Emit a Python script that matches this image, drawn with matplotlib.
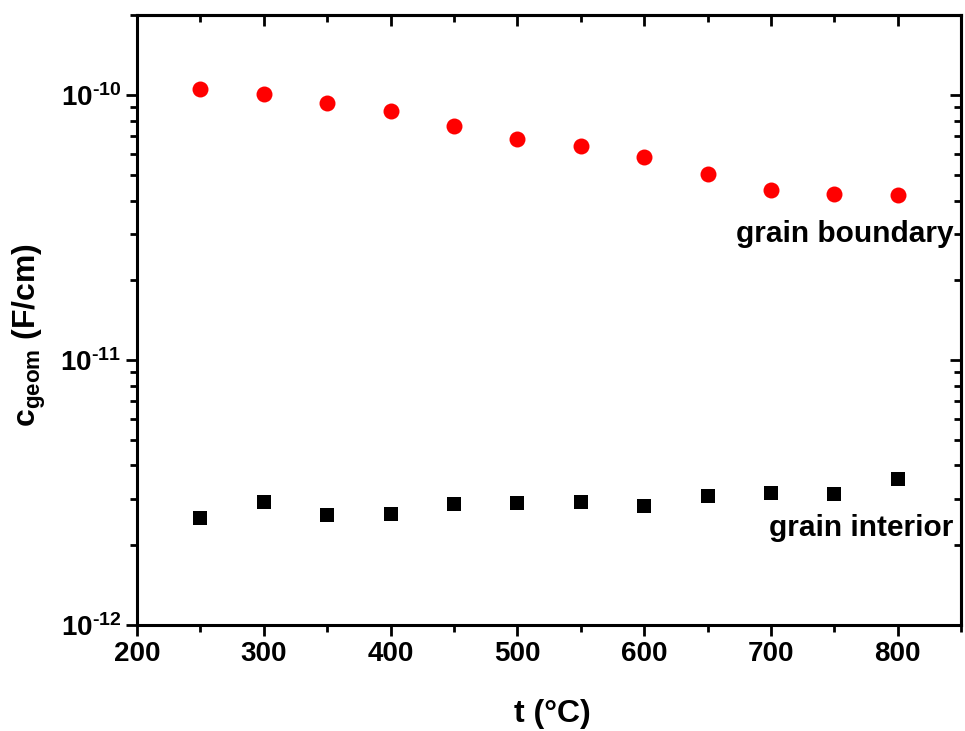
import numpy as np
import matplotlib
matplotlib.use("Agg")
import matplotlib.pyplot as plt
from matplotlib.ticker import MultipleLocator, LogLocator, NullFormatter, FuncFormatter

plt.rcParams['font.family'] = ['Liberation Sans', 'DejaVu Sans']
plt.rcParams['font.weight'] = 'bold'
plt.rcParams['axes.labelweight'] = 'bold'
plt.rcParams['mathtext.fontset'] = 'custom'
plt.rcParams['mathtext.rm'] = 'Liberation Sans:bold'
plt.rcParams['mathtext.bf'] = 'Liberation Sans:bold'
plt.rcParams['mathtext.it'] = 'Liberation Sans:bold'
plt.rcParams['mathtext.default'] = 'bf'

# temperatures (°C)
temps = [250, 300, 350, 400, 450, 500, 550, 600, 650, 700, 750, 800]
# geometric capacitance (F/cm)
c_boundary = [1.05e-10, 1.01e-10, 0.935e-10, 0.87e-10, 0.765e-10, 0.683e-10,
              0.643e-10, 0.585e-10, 0.505e-10, 0.44e-10, 0.424e-10, 0.418e-10]
c_interior = [2.54e-12, 2.92e-12, 2.61e-12, 2.63e-12, 2.85e-12, 2.89e-12,
              2.92e-12, 2.82e-12, 3.08e-12, 3.16e-12, 3.13e-12, 3.56e-12]

fig = plt.figure(figsize=(9.65, 7.31), dpi=100)
ax = fig.add_axes([0.142, 0.145, 0.854, 0.834])

ax.plot(temps, c_boundary, 'o', color='#ff0000', markersize=11.5, markeredgewidth=0)
ax.plot(temps, c_interior, 's', color='black', markersize=10, markeredgewidth=0)

ax.set_yscale('log')
ax.set_xlim(200, 850)
ax.set_ylim(1e-12, 2e-10)


def log_label(v, pos):
    e = int(round(np.log10(v)))
    return r'10$^{\text{%d}}$' % e


ax.xaxis.set_major_locator(MultipleLocator(100))
ax.xaxis.set_minor_locator(MultipleLocator(50))
ax.yaxis.set_major_locator(LogLocator(base=10, numticks=10))
ax.yaxis.set_minor_locator(LogLocator(base=10, subs=np.arange(2, 10), numticks=20))
ax.yaxis.set_major_formatter(FuncFormatter(log_label))
ax.yaxis.set_minor_formatter(NullFormatter())

for s in ax.spines.values():
    s.set_linewidth(2.2)

ax.tick_params(which='both', direction='out', width=2.0, labelsize=20,
               top=False, right=False)
ax.tick_params(which='major', length=8)
ax.tick_params(which='minor', length=5)

# mirrored ticks pointing inwards on top/right
axt = ax.secondary_xaxis('top')
axt.xaxis.set_major_locator(MultipleLocator(100))
axt.xaxis.set_minor_locator(MultipleLocator(50))
axt.tick_params(which='both', direction='in', width=2.0, labeltop=False)
axt.tick_params(which='major', length=8)
axt.tick_params(which='minor', length=5)
axt.spines['top'].set_linewidth(2.2)

axr = ax.secondary_yaxis('right')
axr.yaxis.set_major_locator(LogLocator(base=10, numticks=10))
axr.yaxis.set_minor_locator(LogLocator(base=10, subs=np.arange(2, 10), numticks=20))
axr.yaxis.set_minor_formatter(NullFormatter())
axr.tick_params(which='both', direction='in', width=2.0, labelright=False)
axr.tick_params(which='major', length=8)
axr.tick_params(which='minor', length=5)
axr.spines['right'].set_linewidth(2.2)

ax.set_xlabel('t (°C)', fontsize=23)
ax.set_ylabel(r'c$_{geom}$ (F/cm)', fontsize=23)
ax.xaxis.set_label_coords(0.504, -0.122)
ax.yaxis.set_label_coords(-0.108, 0.475)

ax.text(844, 3.0e-11, 'grain boundary', fontsize=21.5, ha='right', va='center')
ax.text(844, 2.33e-12, 'grain interior', fontsize=21.5, ha='right', va='center')

fig.savefig('out.png', dpi=100)
